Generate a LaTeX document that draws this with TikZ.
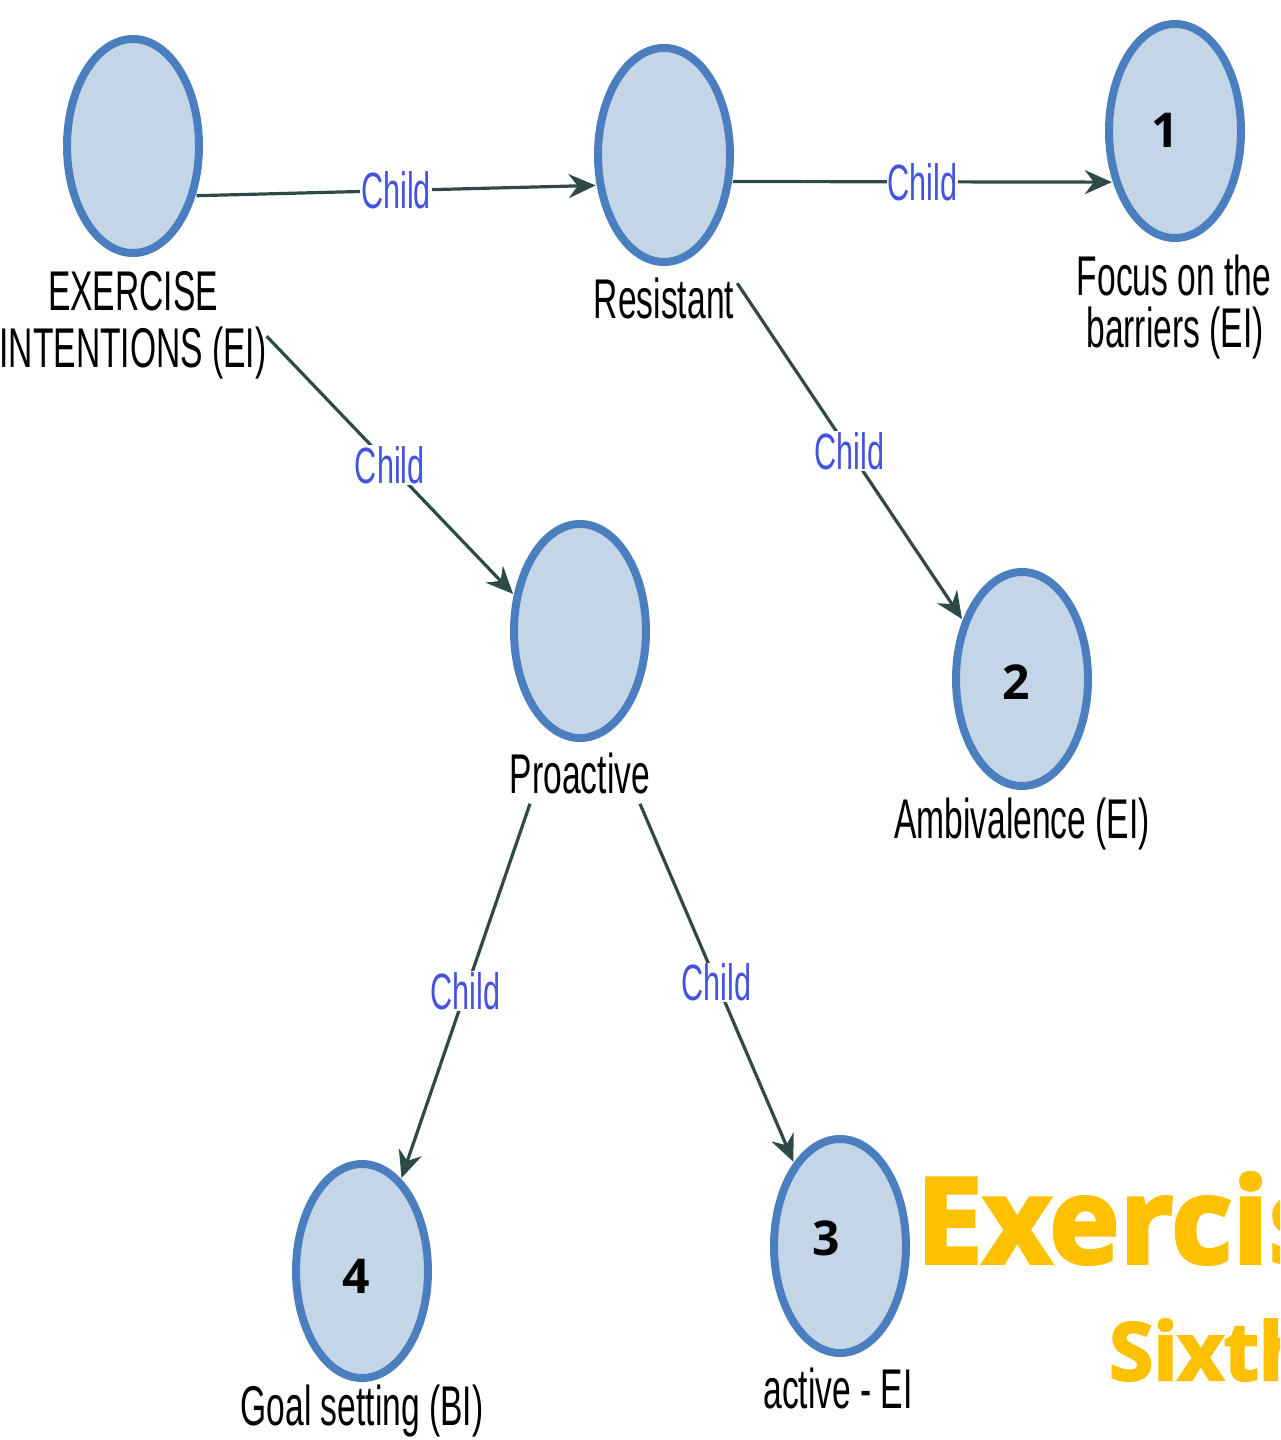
\documentclass[tikz,border=0pt]{standalone}
\usepackage{fontspec}
\setmainfont{Liberation Sans}
\newfontfamily\narrowfont[FakeStretch=0.6]{Liberation Sans}
\newfontfamily\numfont{Open Sans}
\newfontfamily\yfont[FakeBold=3]{Open Sans}
\usetikzlibrary{shapes.geometric,arrows.meta}
\definecolor{nodeblue}{HTML}{4A7EBE}
\definecolor{nodefill}{HTML}{C4D5E8}
\definecolor{edgecol}{HTML}{2E4A48}
\definecolor{childblue}{HTML}{4452E0}
\definecolor{yellowc}{HTML}{FFC000}
\begin{document}
\begin{tikzpicture}[x=1pt,y=-1pt,
  circ/.style={ellipse, draw=nodeblue, fill=nodefill, line width=8pt, minimum width=132pt, minimum height=214pt, inner sep=0pt, outer sep=5pt},
  lab/.style={font=\narrowfont\fontsize{56}{57}\selectfont, inner sep=0pt, anchor=base},
  num/.style={font=\numfont\bfseries\fontsize{48}{48}\selectfont, inner sep=0pt},
  edge/.style={draw=edgecol, line width=3.2pt, -{Stealth[length=27pt,width=24pt,inset=9pt]}},
  elab/.style={font=\narrowfont\fontsize{51}{51}\selectfont, text=childblue, fill=white, inner sep=1pt},
  title/.style={anchor=base west, inner sep=0pt, text=yellowc}]
\useasboundingbox (0,0) rectangle (1280,1440);
\clip (0,0) rectangle (1280,1440);
\fill[white] (0,0) rectangle (1280,1440);

\node[circ] (A) at (133,146) {};
\node[circ] (B) at (664,155) {};
\node[circ] (C) at (1175,131) {};
\node[circ] (D) at (580,631) {};
\node[circ] (E) at (1022,679) {};
\node[circ] (F) at (362,1271) {};
\node[circ] (G) at (840,1246) {};

\node[lab] (A1) at (133,310) {EXERCISE};
\node[lab] (A2) at (133,367) {INTENTIONS (EI)};
\node[lab] (Blab) at (664,318) {Resistant};
\node[lab] (C1) at (1174,295) {Focus on the};
\node[lab] (C2) at (1175,347) {barriers (EI)};
\node[lab] (Dlab) at (580,793) {Proactive};
\node[lab] (Elab) at (1022,838) {Ambivalence (EI)};
\node[lab] (Flab) at (362,1425) {Goal setting (BI)};
\node[lab] (Glab) at (838,1408) {active - EI};

\node[num] (n1) at (1165,130) {1};
\node[num] (n2) at (1016,682) {2};
\node[num] (n3) at (826,1238) {3};
\node[num] (n4) at (356,1276) {4};

\draw[edge] (A.-38) -- node[elab]{Child} (B.204);
\draw[edge] (B.-21) -- node[elab]{Child} (C.219);
\draw[edge] ([yshift=-10pt]A2.north east) -- node[elab]{Child} (D.151);
\draw[edge] ([xshift=3pt,yshift=-6pt]Blab.north east) -- node[elab]{Child} (E.135);
\draw[edge] ([xshift=-50pt,yshift=-10pt]Dlab.south) -- node[elab]{Child} (F.67);
\draw[edge] ([xshift=60pt,yshift=-10pt]Dlab.south) -- node[elab]{Child} (G.119);

\node[title, font=\yfont\bfseries\fontsize{119}{119}\selectfont] (T1) at (916,1263) {Exercise};
\node[title, font=\yfont\bfseries\fontsize{80}{80}\selectfont] (T2) at (1109,1380) {Sixth};
\end{tikzpicture}
\end{document}
